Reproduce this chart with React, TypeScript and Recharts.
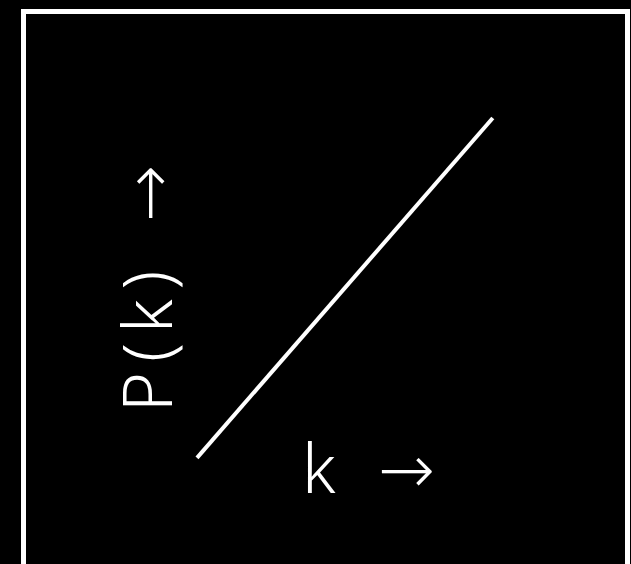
import React from 'react';
import { LineChart, Line, XAxis, YAxis } from 'recharts';

// schematic power-law line
const kValues = [2.85, 7.78];
const pValues = [1.93, 8.11];

const data = kValues.map((k, i) => ({ k, p: pValues[i] }));

const xLabel = 'k';
const yLabel = 'P(k)';
const arrow = '→';

const font = '"Noto Sans", sans-serif';
const arrowFont = '"DejaVu Sans", sans-serif';

const App: React.FC = () => {
  return (
    <div style={{ position: 'fixed', left: 0, top: 0, width: 631, height: 564, background: '#000', overflow: 'hidden' }}>
      <div
        style={{
          position: 'absolute',
          left: 21,
          top: 9,
          width: 599,
          height: 600,
          border: '5px solid #fff',
        }}
      />
      <div style={{ position: 'absolute', left: 0, top: 0 }}>
        <LineChart width={631} height={564} data={data} margin={{ top: 14, right: 5, left: 26, bottom: 0 }}>
          <XAxis dataKey="k" type="number" domain={[0, 10]} hide />
          <YAxis dataKey="p" type="number" domain={[0, 10]} hide />
          <Line dataKey="p" stroke="#fff" strokeWidth={4} dot={false} isAnimationActive={false} />
          <text x={302} y={493} fill="#fff" fontSize={68} fontFamily={font} fontWeight={300}>
            {xLabel}
            <tspan x={378} fontFamily={arrowFont} fontWeight={200}>{arrow}</tspan>
          </text>
          <text
            x={172}
            y={412}
            fill="#fff"
            fontSize={68}
            fontFamily={font}
            fontWeight={300}
            letterSpacing={10}
            transform="rotate(-90, 172, 412)"
          >
            {yLabel}
            <tspan x={362} fontFamily={arrowFont} fontWeight={200} letterSpacing={0}>{arrow}</tspan>
          </text>
        </LineChart>
      </div>
    </div>
  );
};

export default App;
